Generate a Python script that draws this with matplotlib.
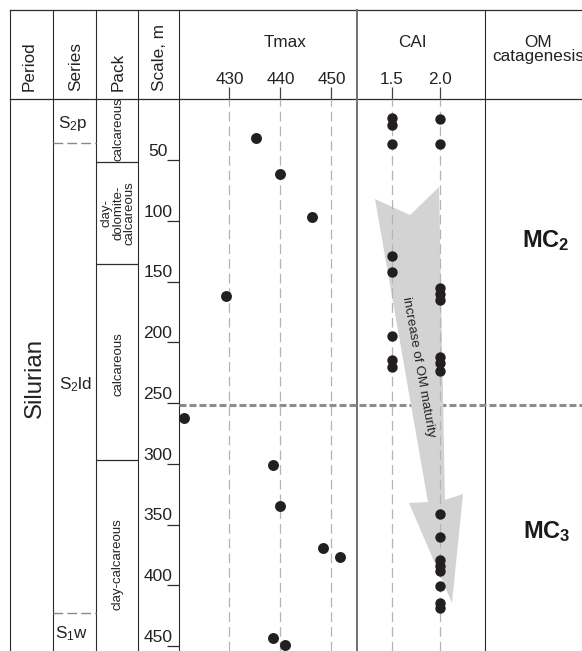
import matplotlib
matplotlib.use('Agg')
import matplotlib.pyplot as plt
import matplotlib.transforms as mtransforms

plt.rcParams['font.family'] = ['Liberation Sans', 'DejaVu Sans']
plt.rcParams['mathtext.fontset'] = 'custom'
plt.rcParams['mathtext.rm'] = 'Liberation Sans'
plt.rcParams['mathtext.it'] = 'Liberation Sans:italic'
plt.rcParams['mathtext.bf'] = 'Liberation Sans:bold'
plt.rcParams['lines.scale_dashes'] = False

# ---- data -------------------------------------------------------------
tmax_depth = [32, 61.5, 97, 162, 262, 301, 335, 369, 376.5, 443.7, 449.5]
tmax_value = [435.1, 440.0, 446.1, 429.4, 421.1, 438.5, 440.0, 448.3, 451.7, 438.5, 440.9]

cai15_depth = [15.2, 21.2, 37, 128.8, 142.4, 194.6, 214.6, 220.6]
cai20_depth = [16.3, 37, 155.6, 160.3, 165.2, 211.9, 217.3, 223.7,
               341.4, 360.5, 379.2, 384.2, 388.3, 400.6, 414.4, 419]

tmax_ticks = [430, 440, 450]
cai_ticks = [1.5, 2.0]
cai_ticklabels = ['1.5', '2.0']
scale_ticks = [50, 100, 150, 200, 250, 300, 350, 400, 450]

pack_bounds = [52, 135.6, 297]
series_bounds = [36, 423]
mc_bound = 252

# arrow outline (CAI value, depth)
arrow_cai = [1.326, 1.691, 1.993, 2.055, 2.243, 2.128, 1.680, 1.878]
arrow_depth = [82.1, 95.3, 72.2, 329.8, 324.9, 414.6, 332.3, 331.5]

# ---- layout -----------------------------------------------------------
W, H = 582, 651
TOP = 99.25
PXM = 1.215
DMAX = (H - TOP) / PXM

def box(x0, y0, x1, y1):
    return [x0 / W, 1 - y1 / H, (x1 - x0) / W, (y1 - y0) / H]

def dep(y):
    return (y - TOP) / PXM

fig = plt.figure(figsize=(W / 100, H / 100), dpi=100)

# frame and headers, in pixels
ax0 = fig.add_axes([0, 0, 1, 1])
ax0.set_xlim(0, W)
ax0.set_ylim(H, 0)
ax0.axis('off')
dark = '#2b2b2b'
ax0.plot([10, W], [10, 10], color=dark, lw=0.9)
ax0.plot([10, W], [TOP, TOP], color=dark, lw=0.9)
for x in [10, 53, 96, 138, 179, 485]:
    ax0.plot([x, x], [10, H], color=dark, lw=0.8)
ax0.plot([357, 357], [10, H], color='#707070', lw=1.4)

hfs = 12.3
for x, s in [(34, 'Period'), (80, 'Series'), (123, 'Pack'), (164.5, 'Scale, m')]:
    ax0.text(x, 91, s, rotation=90, rotation_mode='anchor', ha='left',
             va='baseline', fontsize=hfs, color='#222')
ax0.text(285, 47, 'Tmax', ha='center', va='baseline', fontsize=hfs, color='#222')
ax0.text(412.5, 47, 'CAI', ha='center', va='baseline', fontsize=hfs, color='#222')
ax0.text(538, 47, 'OM', ha='center', va='baseline', fontsize=hfs, color='#222')
ax0.text(492, 61, 'catagenesis', ha='left', va='baseline', fontsize=hfs, color='#222')

# stratigraphy columns: x in pixels, y in depth
ax_s = fig.add_axes(box(10, TOP, W, H))
ax_s.set_xlim(10, W)
ax_s.set_ylim(DMAX, 0)
ax_s.axis('off')
ax_s.patch.set_alpha(0)

ax_s.hlines(pack_bounds, 96, 138, color=dark, lw=0.9)
ax_s.hlines(series_bounds, 53, 96, color='#8a8a8a', lw=1.0, linestyles=[(0, (7, 3))])
ax_s.hlines([mc_bound], 179, W, color='#8c8c8c', lw=2.2, linestyles=[(0, (5, 2.2))],
            zorder=4)
ax_s.hlines(scale_ticks, 167, 179, color=dark, lw=0.9)

off = mtransforms.offset_copy(ax_s.transData, fig=fig, y=3, units='points')
for d in scale_ticks:
    ax_s.text(158, d, str(d), transform=off, ha='center', va='baseline',
              fontsize=12.5, color='#222')

ax_s.text(41, dep(418), 'Silurian', rotation=90, rotation_mode='anchor',
          ha='left', va='baseline', fontsize=17.3, color='#222')

ax_s.text(73, dep(128), r'S$_2$p', ha='center', va='baseline', fontsize=hfs, color='#222')
ax_s.text(75, dep(389), r'S$_2$ld', ha='center', va='baseline', fontsize=hfs, color='#222')
ax_s.text(72, dep(638), r'S$_1$w', ha='center', va='baseline', fontsize=hfs, color='#222')

pfs = 9.5
ax_s.text(118, dep(129), 'calcareous', rotation=90, ha='center', va='center',
          fontsize=pfs, color='#222', clip_on=True)
ax_s.text(118, dep(213), 'clay-\ndolomite-\ncalcareous', rotation=90, ha='center',
          va='center', multialignment='center', linespacing=0.95, fontsize=pfs, color='#222')
ax_s.text(118, dep(364.5), 'calcareous', rotation=90, ha='center', va='center',
          fontsize=pfs, color='#222')
ax_s.text(118, dep(564), 'clay-calcareous', rotation=90, ha='center', va='center',
          fontsize=pfs, color='#222')

ax_s.text(522, dep(247), r'MC$_\mathbf{2}$', ha='left', va='baseline',
          fontsize=17, fontweight='bold', color='#1a1a1a')
ax_s.text(523, dep(538), r'MC$_\mathbf{3}$', ha='left', va='baseline',
          fontsize=17, fontweight='bold', color='#1a1a1a')

# data panels
def panel(rect, xlim, ticks, labels):
    ax = fig.add_axes(rect)
    ax.patch.set_alpha(0)
    ax.set_xlim(*xlim)
    ax.set_ylim(DMAX, 0)
    for sp in ax.spines.values():
        sp.set_visible(False)
    ax.xaxis.tick_top()
    ax.set_xticks(ticks)
    ax.set_xticklabels(labels)
    ax.tick_params(axis='x', length=8.6, width=0.9, color='#444', pad=0.3,
                   labelsize=hfs, labelcolor='#222')
    ax.set_yticks([])
    ax.grid(axis='x', color='#b4b4b4', lw=0.9, linestyle=(0, (7, 3.6)))
    return ax

ax_t = panel(box(179, TOP, 357, H), (420.1, 455.0), tmax_ticks,
             [str(t) for t in tmax_ticks])
ax_t.scatter(tmax_value, tmax_depth, s=62, color='#231f20', zorder=3,
             linewidths=0, clip_on=False)

ax_c = panel(box(357, TOP, 485, H), (1.1385, 2.472), cai_ticks, cai_ticklabels)
ax_c.fill(arrow_cai, arrow_depth, color='#d3d3d3', lw=0, zorder=1)
ax_c.scatter([1.5] * len(cai15_depth), cai15_depth, s=56, color='#231f20',
             zorder=3, linewidths=0)
ax_c.scatter([2.0] * len(cai20_depth), cai20_depth, s=56, color='#231f20',
             zorder=3, linewidths=0)
ax_c.text(1.774, 220.4, 'increase of OM maturity', rotation=-79.9,
          rotation_mode='anchor', ha='center', va='center', fontsize=9.6,
          color='#222', zorder=2)

fig.savefig('out.png', dpi=100)
